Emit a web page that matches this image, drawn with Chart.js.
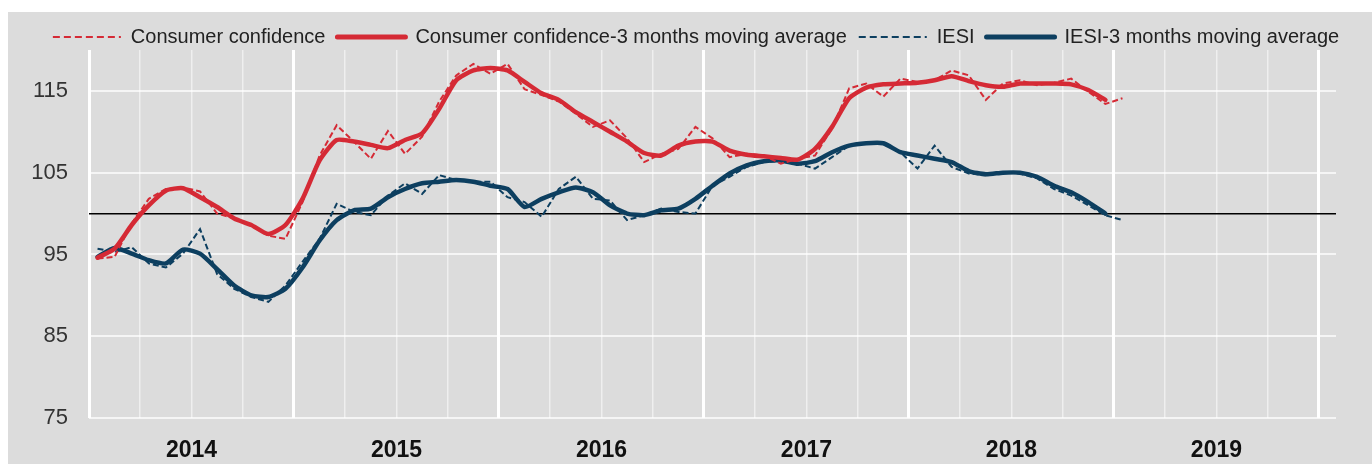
<!DOCTYPE html>
<html>
<head>
<meta charset="utf-8">
<script src="https://cdn.jsdelivr.net/npm/chart.js@4.4.1/dist/chart.umd.min.js"></script>
<style>
    body { margin: 0; background: #fff; }
    #wrap { position: absolute; left: 8px; top: 12px; width: 1364px; height: 452px; background: #dcdcdc; }
</style>
</head>
<body>
<div id="wrap"><canvas id="chart"></canvas></div>
<script>
let years = ['2014', '2015', '2016', '2017', '2018', '2019'];

// monthly, Jan 2014 - Jan 2019
let confidence = [
    94.5, 94.7, 98.8, 101.8, 103.0, 103.2, 102.7, 100.0, 99.4, 98.5, 97.3, 96.9,
    101.4, 107.1, 110.8, 108.8, 106.7, 110.1, 107.3, 109.4, 113.7, 116.9, 118.3, 117.1,
    118.3, 115.2, 114.5, 113.7, 112.2, 110.6, 111.4, 109.2, 106.3, 107.3, 107.9, 110.6,
    109.2, 106.9, 107.3, 107.1, 106.1, 106.7, 107.1, 110.4, 115.3, 115.9, 114.3, 116.5,
    116.1, 116.3, 117.5, 116.9, 113.9, 115.9, 116.3, 115.7, 116.0, 116.5, 114.9, 113.4,
    114.1
];
// Jan 2014 - Dec 2018
let confidenceMA = [
    94.6, 95.7, 98.6, 101.0, 102.8, 103.1, 102.0, 100.8, 99.4, 98.6, 97.5, 98.6,
    101.8, 106.5, 109.0, 108.8, 108.4, 108.0, 109.0, 109.8, 112.8, 116.3, 117.5, 117.8,
    117.5, 116.1, 114.7, 113.9, 112.4, 111.2, 110.0, 108.8, 107.4, 107.1, 108.3, 108.8,
    108.8, 107.7, 107.2, 107.0, 106.8, 106.6, 107.9, 110.6, 114.1, 115.4, 115.8, 115.9,
    116.0, 116.3, 116.8, 116.2, 115.7, 115.5, 115.9, 115.9, 115.9, 115.8, 115.1, 113.9
];
let iesi = [
    95.7, 95.3, 95.9, 93.9, 93.4, 95.1, 98.1, 92.6, 90.8, 89.8, 89.2, 91.2,
    94.1, 96.9, 101.2, 100.2, 99.8, 102.2, 103.7, 102.4, 104.7, 104.1, 103.9, 103.9,
    102.0, 101.4, 99.6, 103.0, 104.5, 101.8, 101.6, 99.2, 99.8, 100.6, 100.2, 100.0,
    103.4, 104.5, 105.7, 106.3, 106.4, 106.1, 105.5, 106.9, 108.3, 108.6, 108.6, 107.5,
    105.5, 108.3, 105.7, 104.9, 104.7, 105.0, 104.9, 104.3, 103.0, 102.2, 101.0, 99.8,
    99.2
];
let iesiMA = [
    94.7, 95.8, 95.1, 94.3, 93.9, 95.6, 95.1, 93.2, 91.2, 90.0, 89.8, 90.8,
    93.4, 96.7, 99.2, 100.4, 100.6, 102.0, 103.0, 103.7, 103.9, 104.1, 103.9, 103.4,
    103.0, 100.8, 101.8, 102.6, 103.2, 102.6, 101.0, 100.0, 99.8, 100.4, 100.6, 101.8,
    103.4, 104.9, 105.9, 106.4, 106.5, 106.1, 106.4, 107.5, 108.3, 108.6, 108.6, 107.5,
    107.1, 106.7, 106.3, 105.2, 104.8, 105.0, 105.0, 104.5, 103.4, 102.6, 101.4, 100.0
];
let yTicks = [75, 85, 95, 100, 105, 115];

const RED = '#d52a35';
const NAVY = '#0d3f60';
const FONT = "'Liberation Sans', Arial, sans-serif";

// month i sits in the middle of its month slot
function toPoints(arr) {
    return arr.map((v, i) => ({ x: i + 0.5, y: v }));
}

// squeeze the legend row and nudge it right like the original
let legendTweak = {
    id: 'legendTweak',
    beforeInit(chart) {
        const fit = chart.legend.fit;
        chart.legend.fit = function () {
            fit.bind(chart.legend)();
            this.height = 35;
        };
        const draw = chart.legend.draw;
        chart.legend.draw = function () {
            this.ctx.save();
            this.ctx.translate(24, 0);
            draw.call(this);
            this.ctx.restore();
        };
    }
};

let graph = new Chart(document.getElementById('chart'), {
    type: 'line',
    data: {
        datasets: [{
            label: 'Consumer confidence',
            data: toPoints(confidence),
            borderColor: RED,
            backgroundColor: RED,
            borderWidth: 2,
            borderDash: [6, 3],
            tension: 0
        }, {
            label: 'Consumer confidence-3 months moving average',
            data: toPoints(confidenceMA),
            borderColor: RED,
            backgroundColor: RED,
            borderWidth: 4.5,
            borderCapStyle: 'round',
            tension: 0.2
        }, {
            label: 'IESI',
            data: toPoints(iesi),
            borderColor: NAVY,
            backgroundColor: NAVY,
            borderWidth: 2,
            borderDash: [6, 3],
            tension: 0
        }, {
            label: 'IESI-3 months moving average',
            data: toPoints(iesiMA),
            borderColor: NAVY,
            backgroundColor: NAVY,
            borderWidth: 4.5,
            borderCapStyle: 'round',
            tension: 0.2
        }]
    },
    options: {
        responsive: true,
        maintainAspectRatio: false,
        animation: false,
        elements: { point: { radius: 0 } },
        layout: { padding: { left: 0, right: 36, top: 3, bottom: 0 } },
        plugins: {
            legend: {
                position: 'top',
                labels: {
                    usePointStyle: true,
                    pointStyle: 'line',
                    pointStyleWidth: 68,
                    boxHeight: 20,
                    padding: 12,
                    color: '#222',
                    font: { family: FONT, size: 20 },
                    generateLabels: (chart) => {
                        let items = Chart.defaults.plugins.legend.labels.generateLabels(chart);
                        for (let it of items) {
                            let ds = chart.data.datasets[it.datasetIndex];
                            it.strokeStyle = ds.borderColor;
                            it.lineWidth = ds.borderDash ? 2.2 : 5;
                            it.lineDash = ds.borderDash ? [7, 4] : [];
                            it.lineCap = ds.borderDash ? 'butt' : 'round';
                        }
                        return items;
                    }
                }
            },
            tooltip: { enabled: false }
        },
        scales: {
            x: {
                type: 'linear',
                min: 0,
                max: 73,
                afterBuildTicks: (axis) => {
                    let t = [];
                    for (let v = 0; v <= 72; v += 3) t.push({ value: v });
                    axis.ticks = t;
                },
                afterFit: (axis) => { axis.height = 46; },
                border: { display: false },
                grid: {
                    drawTicks: false,
                    color: (c) => c.tick && c.tick.value % 12 === 0 ? '#ffffff' : 'rgba(255,255,255,0.55)',
                    lineWidth: (c) => c.tick && c.tick.value % 12 === 0 ? 3 : 1.5
                },
                ticks: {
                    autoSkip: false,
                    maxRotation: 0,
                    padding: 19,
                    color: '#111',
                    font: { family: FONT, size: 23, weight: 'bold' },
                    callback: (v) => v % 12 === 6 ? years[(v - 6) / 12] : ''
                }
            },
            y: {
                min: 75,
                max: 120,
                afterBuildTicks: (axis) => {
                    axis.ticks = yTicks.map(v => ({ value: v }));
                },
                afterFit: (axis) => { axis.width = 81; },
                border: { display: false },
                grid: {
                    drawTicks: false,
                    color: (c) => c.tick && c.tick.value === 100 ? '#000000' : 'rgba(255,255,255,0.7)',
                    lineWidth: (c) => c.tick && c.tick.value === 100 ? 1.5 : 2
                },
                ticks: {
                    padding: 21,
                    color: '#333',
                    font: { family: FONT, size: 22 },
                    callback: (v) => v === 100 ? '' : v
                }
            }
        }
    },
    plugins: [legendTweak]
});
</script>
</body>
</html>
